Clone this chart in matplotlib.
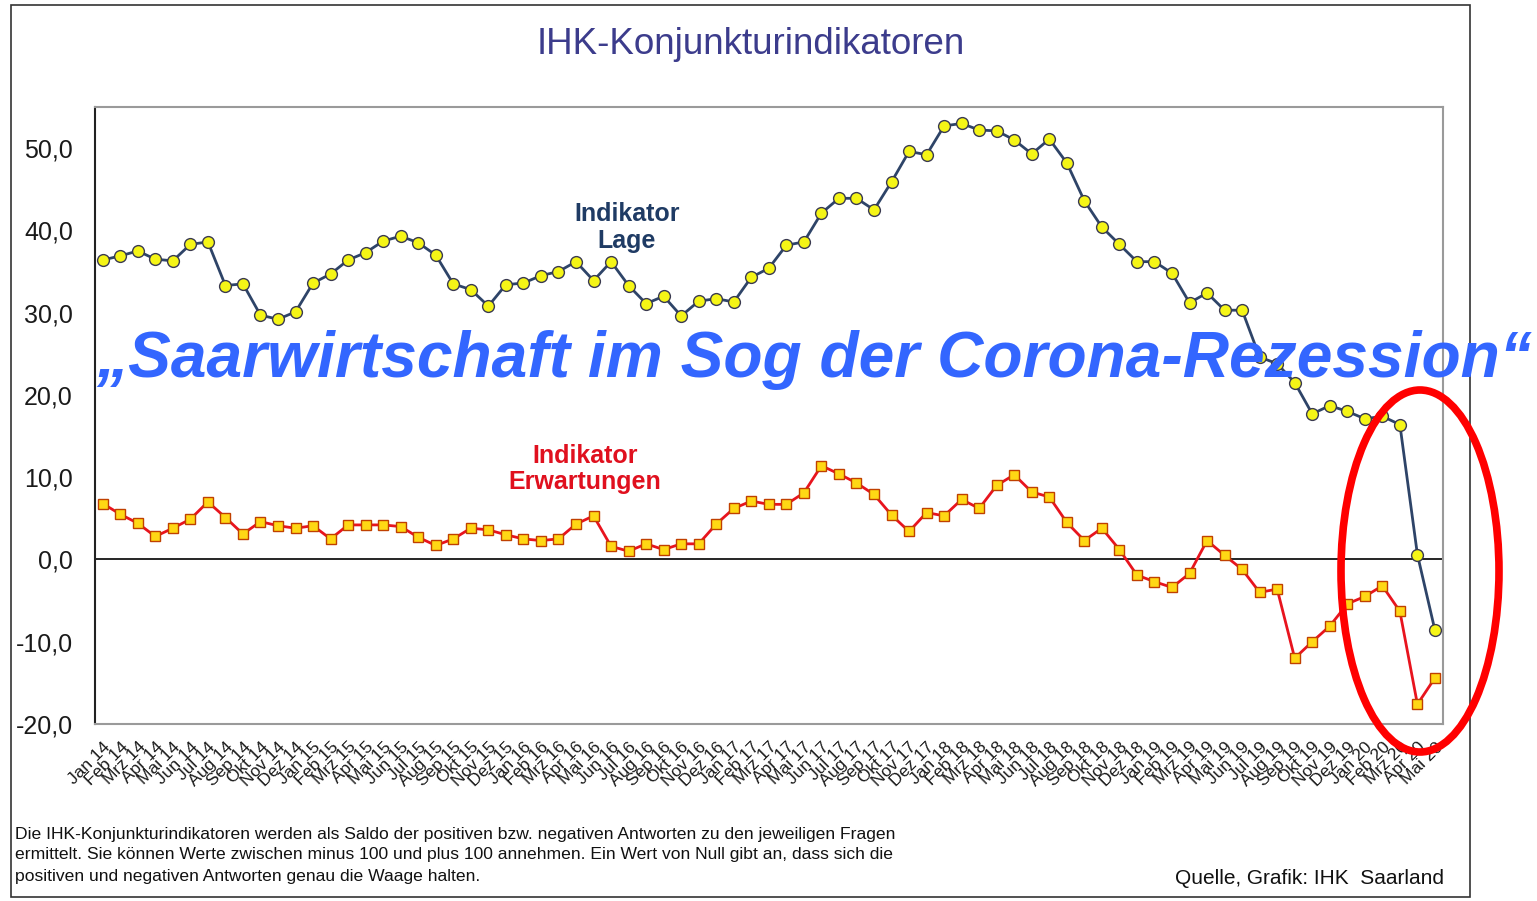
import matplotlib
matplotlib.use("Agg")
import matplotlib.pyplot as plt
from matplotlib.patches import Ellipse, Rectangle
from matplotlib.ticker import FuncFormatter, FixedLocator

# ---- data ----
months = ["Jan", "Feb", "Mrz", "Apr", "Mai", "Jun", "Jul", "Aug", "Sep", "Okt", "Nov", "Dez"]
years = ["14", "15", "16", "17", "18", "19", "20"]
labels = [f"{m} {y}" for y in years for m in months][:77]

lage = [36.4, 36.9, 37.5, 36.5, 36.3, 38.3, 38.6, 33.3, 33.5, 29.7, 29.2, 30.1,
        33.6, 34.7, 36.4, 37.3, 38.7, 39.3, 38.5, 37.0, 33.5, 32.8, 30.8, 33.4,
        33.6, 34.5, 35.0, 36.2, 33.9, 36.2, 33.3, 31.1, 32.0, 29.6, 31.4, 31.7,
        31.3, 34.3, 35.4, 38.2, 38.6, 42.1, 43.9, 43.9, 42.5, 45.9, 49.6, 49.2,
        52.7, 53.0, 52.2, 52.1, 51.0, 49.3, 51.1, 48.2, 43.6, 40.4, 38.3, 36.2,
        36.2, 34.8, 31.2, 32.4, 30.3, 30.3, 24.6, 23.8, 21.5, 17.7, 18.7, 18.0,
        17.1, 17.4, 16.4, 0.6, -8.6]

erwartungen = [6.8, 5.5, 4.4, 2.8, 3.8, 4.9, 7.0, 5.1, 3.1, 4.6, 4.1, 3.8,
               4.1, 2.5, 4.2, 4.2, 4.2, 4.0, 2.7, 1.7, 2.5, 3.8, 3.6, 3.0,
               2.5, 2.3, 2.5, 4.3, 5.3, 1.6, 1.0, 1.9, 1.2, 1.9, 1.9, 4.3,
               6.2, 7.1, 6.7, 6.7, 8.1, 11.4, 10.4, 9.3, 7.9, 5.4, 3.4, 5.7,
               5.3, 7.3, 6.2, 9.0, 10.3, 8.2, 7.6, 4.5, 2.3, 3.8, 1.2, -1.9,
               -2.7, -3.4, -1.7, 2.3, 0.5, -1.2, -4.0, -3.6, -12.0, -10.0, -8.1, -5.4,
               -4.5, -3.2, -6.3, -17.6, -14.4]

yticks = [-20, -10, 0, 10, 20, 30, 40, 50]

title = "IHK-Konjunkturindikatoren"
headline = "\u201eSaarwirtschaft im Sog der Corona-Rezession\u201c"
footnote_lines = [
    "Die IHK-Konjunkturindikatoren werden als Saldo der positiven bzw. negativen Antworten zu den jeweiligen Fragen",
    "ermittelt. Sie k\u00f6nnen Werte zwischen minus 100 und plus 100 annehmen. Ein Wert von Null gibt an, dass sich die",
    "positiven und negativen Antworten genau die Waage halten.",
]
source = "Quelle, Grafik: IHK  Saarland"

# ---- figure ----
plt.rcParams['font.family'] = ['Liberation Sans', 'DejaVu Sans']
W, H = 1537, 901
fig = plt.figure(figsize=(W / 100, H / 100), dpi=100)
fig.patch.set_facecolor("white")

# outer frame
fig.add_artist(Rectangle((11 / W, 1 - 897 / H), (1470 - 11) / W, (897 - 5) / H,
                         transform=fig.transFigure, fill=False, edgecolor="#333333", lw=1.2))

ax = fig.add_axes([95 / W, 1 - 724 / H, (1443 - 95) / W, (724 - 107) / H])
x = list(range(len(labels)))

ax.axhline(0, color="black", lw=1.2, zorder=1)

ax.plot(x, lage, color="#2e4468", lw=2.0, marker="o", markersize=8.5,
        markerfacecolor="#f5f516", markeredgecolor="#3a3a50", markeredgewidth=1.0, zorder=3)
ax.plot(x, erwartungen, color="#e8141e", lw=2.0, marker="s", markersize=7,
        markerfacecolor="#ffd814", markeredgecolor="#c04000", markeredgewidth=1.0, zorder=3)

ax.set_xlim(-0.44, 76.46)
ax.set_ylim(-20, 55)
ax.yaxis.set_major_locator(FixedLocator(yticks))
ax.yaxis.set_major_formatter(FuncFormatter(lambda v, p: f"{v:.1f}".replace(".", ",").replace("\u2212", "-")))
ax.tick_params(axis="y", length=0, pad=16, labelsize=18, labelcolor="#1a1a1a")
ax.set_xticks(x)
ax.set_xticklabels(labels, rotation=45, ha="right", va="top", rotation_mode="anchor", fontsize=12.5,
                   color="#1a1a1a")
ax.tick_params(axis="x", length=0, pad=11)

for s in ["top", "right", "bottom"]:
    ax.spines[s].set_color("#9a9a9a")
    ax.spines[s].set_linewidth(1.5)
ax.spines["left"].set_color("#222222")
ax.spines["left"].set_linewidth(1.5)

# series labels
ax.text(29.9, 40.4, "Indikator\nLage", color="#1f3b64", fontsize=18, fontweight="bold",
        ha="center", va="center", linespacing=1.15)
ax.text(27.5, 11.0, "Indikator\nErwartungen", color="#e0101e", fontsize=18, fontweight="bold",
        ha="center", va="center", linespacing=1.15)

# title
fig.text(751 / W, 1 - 44 / H, title, color="#3c3c8c", fontsize=26.5, ha="center", va="center")

# headline overlay
fig.text(96 / W, 1 - 377 / H, headline, color="#3366ff", fontsize=46.2, fontweight="bold",
         fontstyle="italic", ha="left", va="baseline", zorder=10)

# red ellipse
fig.add_artist(Ellipse((1420 / W, 1 - 571 / H), 158 / W, 362 / H, transform=fig.transFigure,
                       fill=False, edgecolor="#ff0000", lw=5.5, zorder=11))

# footnote and source
for i, line in enumerate(footnote_lines):
    fig.text(15 / W, 1 - (834 + 21 * i) / H, line, fontsize=12.6, ha="left", va="center",
             color="#111111")
fig.text(1444 / W, 1 - 879 / H, source, fontsize=15, ha="right", va="center", color="#111111")

fig.savefig("out.png", dpi=100)
